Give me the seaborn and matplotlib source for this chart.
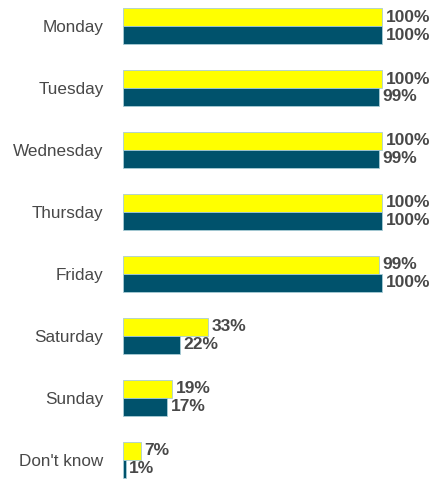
import matplotlib
matplotlib.use("Agg")
import matplotlib.pyplot as plt
import seaborn as sns
import pandas as pd

days = ["Monday", "Tuesday", "Wednesday", "Thursday", "Friday",
        "Saturday", "Sunday", "Don't know"]
series_names = ["2008", "2009"]
yellow_vals = [100, 100, 100, 100, 99, 33, 19, 7]
blue_vals = [100, 99, 99, 100, 100, 22, 17, 1]

df = pd.DataFrame({
    "day": days * 2,
    "series": [series_names[0]] * len(days) + [series_names[1]] * len(days),
    "value": yellow_vals + blue_vals,
})

sns.set_style("white")
plt.rcParams["font.family"] = ["Liberation Sans", "DejaVu Sans"]

fig = plt.figure(figsize=(4.48, 4.79), dpi=100)
ax = fig.add_axes([123 / 448, 0, (448 - 123) / 448, 1])

palette = {series_names[0]: "#FFFF00", series_names[1]: "#00526C"}
sns.barplot(data=df, y="day", x="value", hue="series", order=days,
            hue_order=series_names, palette=palette, orient="h",
            width=0.58, saturation=1, ax=ax, legend=False,
            edgecolor="#a8ccd6", linewidth=0.6)

ax.set_xlim(0, 125.5)
ax.set_ylim(7.31, -0.42)
ax.set_xlabel("")
ax.set_ylabel("")
ax.set_xticks([])
for s in ax.spines.values():
    s.set_visible(False)
ax.tick_params(axis="y", length=0, pad=14)
for lbl in ax.get_yticklabels():
    lbl.set_fontsize(12.3)
    lbl.set_color("#484848")

for cont in ax.containers:
    ax.bar_label(cont, labels=[f"{v:.0f}%" for v in cont.datavalues],
                 padding=2.5, fontsize=12.5, fontweight="bold", color="#484848")

fig.savefig("out.png", dpi=100)
